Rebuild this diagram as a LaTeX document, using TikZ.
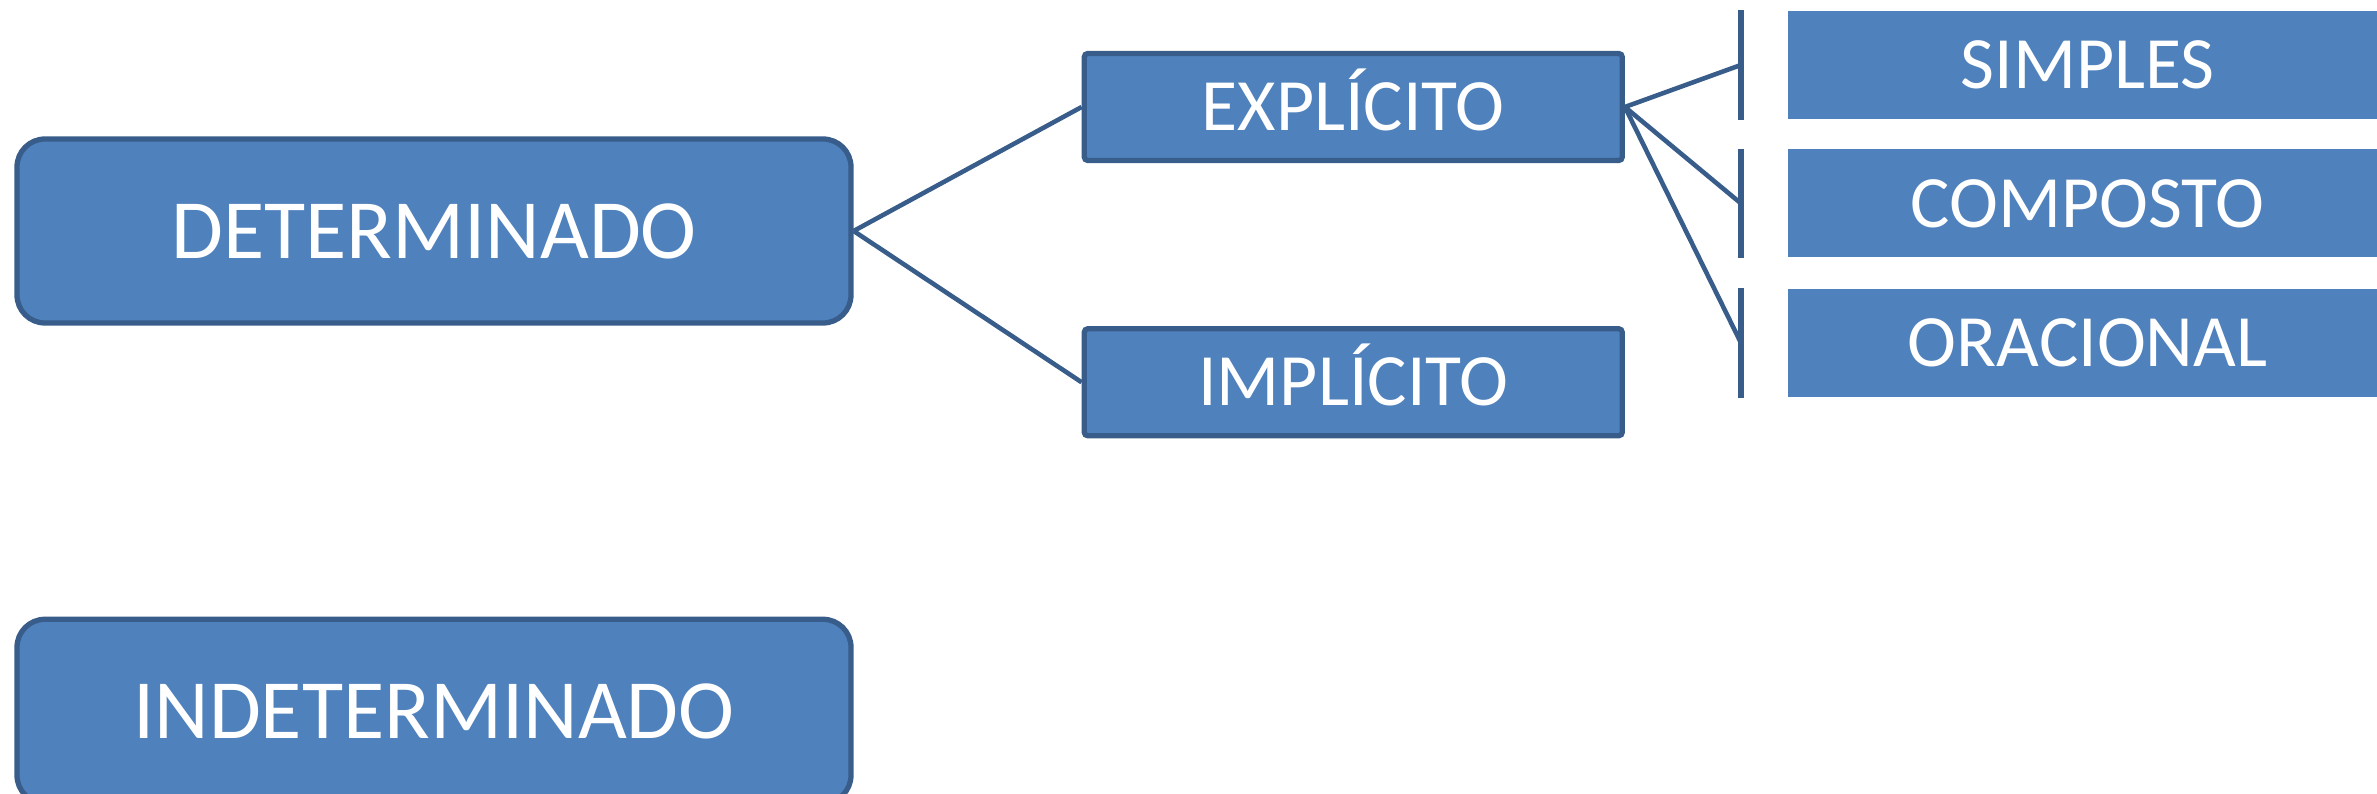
\documentclass[tikz,border=0pt]{standalone}
\usepackage{fontspec}
\setmainfont{Carlito}
\usetikzlibrary{positioning}
\definecolor{boxblue}{HTML}{4F81BD}
\definecolor{edgeblue}{HTML}{385D8A}

\begin{document}
\begin{tikzpicture}[
    node distance=1cm,
    bigbox/.style={rectangle, draw=edgeblue, line width=1.5pt, fill=boxblue, text=white, rounded corners=0.28cm, minimum width=8.34cm, minimum height=1.84cm, text height=15.5pt, text depth=0pt, font=\fontsize{24}{28}\selectfont},
    midbox/.style={rectangle, draw=edgeblue, line width=1.5pt, fill=boxblue, text=white, rounded corners=1pt, minimum width=5.38cm, minimum height=1.07cm, text height=13.5pt, text depth=0pt, font=\fontsize{21}{25}\selectfont},
    leafbox/.style={rectangle, fill=boxblue, text=white, minimum width=6cm, minimum height=1.08cm, text height=13.5pt, text depth=0pt, font=\fontsize{21}{25}\selectfont},
    link/.style={draw=edgeblue, line width=1.3pt},
    bar/.style={draw=edgeblue, line width=1.5pt}
]
\useasboundingbox (0,0) rectangle (23.77,-7.94);

% Main classes
\node[bigbox] (det) at (4.34,-2.31) {DETERMINADO};
\node[bigbox, below=2.91cm of det] (indet) {INDETERMINADO};

% Subject kinds
\node[midbox, right=2.28cm of det, yshift=1.24cm] (expl) {EXPLÍCITO};
\node[midbox, below=1.63cm of expl] (impl) {IMPLÍCITO};

% Leaves
\node[leafbox, right=1.62cm of expl, yshift=0.42cm] (simp) {SIMPLES};
\node[leafbox, below=0.29cm of simp] (comp) {COMPOSTO};
\node[leafbox, below=0.30cm of comp] (orac) {ORACIONAL};

% Brackets
\foreach \leaf in {simp,comp,orac}
    \draw[bar] ([xshift=-0.46cm]\leaf.north west) -- ([xshift=-0.46cm]\leaf.south west);

% Links
\draw[link] (det.east) -- (expl.west);
\draw[link] (det.east) -- (impl.west);
\foreach \leaf in {simp,comp,orac}
    \draw[link] (expl.east) -- ([xshift=-0.46cm]\leaf.west);

\end{tikzpicture}
\end{document}
